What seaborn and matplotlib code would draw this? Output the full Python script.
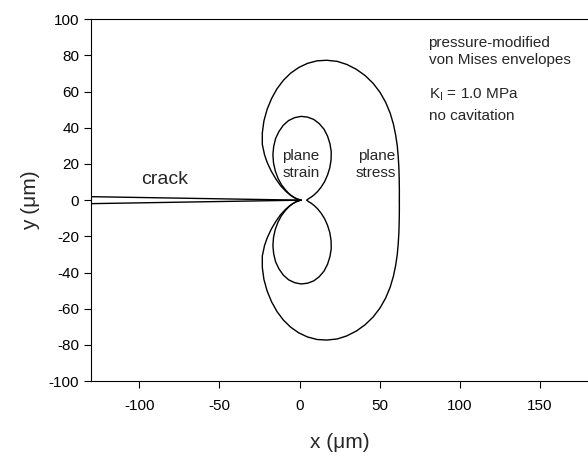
import matplotlib
matplotlib.use("Agg")
import matplotlib.pyplot as plt
import seaborn as sns

# plane stress envelope (um)
stress_upper_x = [62.3, 62.3, 62.2, 62.0, 61.6, 61.0, 60.0, 58.6, 56.6, 53.8, 50.3, 46.0, 41.0,
                  35.5, 29.5, 23.5, 17.0, 11.0, 5.0, -0.5, -5.5, -10.0, -14.0, -17.4, -20.2,
                  -22.2, -23.2, -23.2, -21.8, -20.0, -17.6, -14.8, -11.8, -8.6, -5.4, -2.4, 1.0]
stress_upper_y = [0, 6, 12, 18, 24, 30, 36, 42, 48, 54, 59.5, 64.5, 68.8,
                  72.3, 75.0, 76.7, 77.3, 77.0, 75.6, 73.3, 70.2, 66.3, 61.6, 56.2, 50.2,
                  43.8, 37.2, 30.8, 25.0, 20.5, 16.0, 11.8, 8.0, 5.0, 2.6, 1.0, 0]
stress_lower_x = [62.3, 62.3, 62.2, 62.0, 61.6, 61.0, 60.0, 58.6, 56.6, 53.8, 50.3, 46.0, 41.0,
                  35.5, 29.5, 23.5, 17.0, 11.0, 5.0, -0.5, -5.5, -10.0, -14.0, -17.4, -20.2,
                  -22.2, -23.2, -23.2, -21.8, -20.0, -17.6, -14.8, -11.8, -8.6, -5.4, -2.4, 1.0]
stress_lower_y = [0, -6, -12, -18, -24, -30, -36, -42, -48, -54, -59.5, -64.5, -68.8,
                  -72.3, -75.0, -76.7, -77.3, -77.0, -75.6, -73.3, -70.2, -66.3, -61.6, -56.2, -50.2,
                  -43.8, -37.2, -30.8, -25.0, -20.5, -16.0, -11.8, -8.0, -5.0, -2.6, -1.0, 0]

# plane strain envelope (um), upper and lower lobe
strain_upper_x = [1.0, 0.7, -0.3, -1.9, -4.0, -6.4, -8.8, -11.3, -13.4, -15.1, -16.2, -16.6, -16.1,
                  -14.9, -12.8, -10.1, -6.8, -3.0, 1.0, 5.0, 8.9, 12.3, 15.3, 17.5, 19.0, 19.8,
                  19.7, 18.9, 17.5, 15.7, 13.5, 11.3, 9.2, 7.3, 5.8, 4.9, 4.6]
strain_upper_y = [0, 0.0, 0.2, 0.8, 1.8, 3.4, 5.7, 8.6, 12.1, 16.1, 20.5, 25.1, 29.7,
                  34.1, 38.0, 41.4, 44.0, 45.6, 46.3, 45.9, 44.6, 42.3, 39.2, 35.4, 31.2, 26.8,
                  22.3, 17.9, 13.9, 10.3, 7.2, 4.8, 3.0, 1.7, 0.9, 0.3, 0]
strain_lower_x = [1.0, 0.7, -0.3, -1.9, -4.0, -6.4, -8.8, -11.3, -13.4, -15.1, -16.2, -16.6, -16.1,
                  -14.9, -12.8, -10.1, -6.8, -3.0, 1.0, 5.0, 8.9, 12.3, 15.3, 17.5, 19.0, 19.8,
                  19.7, 18.9, 17.5, 15.7, 13.5, 11.3, 9.2, 7.3, 5.8, 4.9, 4.6]
strain_lower_y = [0, 0.0, -0.2, -0.8, -1.8, -3.4, -5.7, -8.6, -12.1, -16.1, -20.5, -25.1, -29.7,
                  -34.1, -38.0, -41.4, -44.0, -45.6, -46.3, -45.9, -44.6, -42.3, -39.2, -35.4, -31.2, -26.8,
                  -22.3, -17.9, -13.9, -10.3, -7.2, -4.8, -3.0, -1.7, -0.9, -0.3, 0]

# crack faces
crack_x = [-135, 1.0]
crack_upper_y = [2.0, 0]
crack_lower_y = [-2.0, 0]

x_ticks = [-100, -50, 0, 50, 100, 150]
y_ticks = [-100, -80, -60, -40, -20, 0, 20, 40, 60, 80, 100]

sns.set_style("ticks")
plt.rcParams["font.family"] = ["Liberation Sans", "DejaVu Sans"]
plt.rcParams["mathtext.default"] = "regular"
plt.rcParams["axes.unicode_minus"] = False

fig = plt.figure(figsize=(5.88, 4.57), dpi=100)
ax = fig.add_axes([0.155, 0.166, 0.845, 0.792])

curves = [(stress_upper_x, stress_upper_y), (stress_lower_x, stress_lower_y),
          (strain_upper_x, strain_upper_y), (strain_lower_x, strain_lower_y),
          (crack_x, crack_upper_y), (crack_x, crack_lower_y)]
for xs, ys in curves:
    sns.lineplot(x=xs, y=ys, sort=False, estimator=None, color="black",
                 linewidth=1.0, ax=ax)

ax.set_xlim(-130, 180)
ax.set_ylim(-100, 100)
ax.set_xticks(x_ticks)
ax.set_yticks(y_ticks)
ax.tick_params(direction="out", length=5, width=0.8, labelsize=11, colors="black")
ax.tick_params(axis="x", pad=8)
ax.spines["right"].set_visible(False)
for s in ["left", "bottom", "top"]:
    ax.spines[s].set_color("black")
    ax.spines[s].set_linewidth(0.8)

ax.set_xlabel("x (\u03bcm)", fontsize=15, labelpad=14)
ax.set_ylabel("y (\u03bcm)", fontsize=15, labelpad=6)

ax.text(-84, 9, "crack", fontsize=14, ha="center", va="baseline")
ax.text(1, 22, "plane", fontsize=11, ha="center", va="baseline")
ax.text(1, 13, "strain", fontsize=11, ha="center", va="baseline")
ax.text(60, 22, "plane", fontsize=11, ha="right", va="baseline")
ax.text(60, 13, "stress", fontsize=11, ha="right", va="baseline")

ax.text(80.5, 84.7, "pressure-modified", fontsize=11, va="baseline")
ax.text(80.5, 75.5, "von Mises envelopes", fontsize=11, va="baseline")
ax.text(80.5, 56.2, "K$_I$ = 1.0 MPa", fontsize=11, va="baseline")
ax.text(80.5, 44.2, "no cavitation", fontsize=11, va="baseline")

fig.savefig("out.png", dpi=100)
